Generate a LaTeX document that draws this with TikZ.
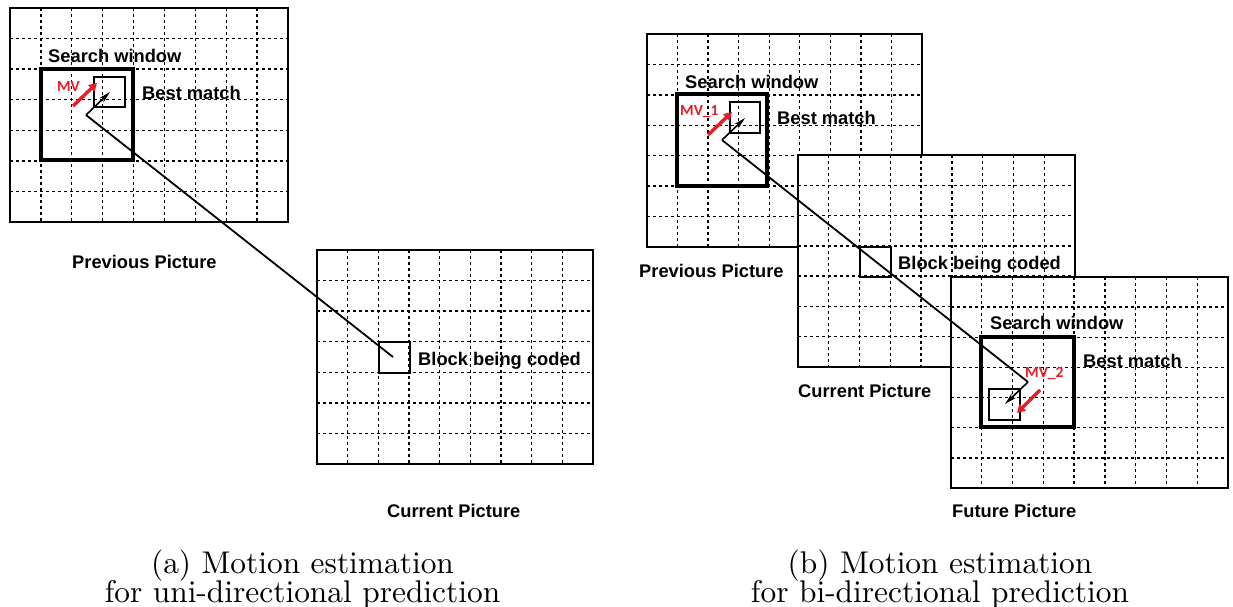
\documentclass[tikz,border=0pt]{standalone}
\usepackage{fontspec}
\newfontfamily\labfont{Liberation Sans}
\newfontfamily\mvfont{Carlito}
\newfontfamily\capfont{lmroman10-regular.otf}
\usetikzlibrary{arrows.meta}
\definecolor{mvred}{RGB}{232,28,36}
\newcommand\picgrid[4]{%
  \fill[white] (#1,#2) rectangle (#3,#4);
  \foreach \i in {1,...,8}{\draw[gridline] ({#1+\i*(#3-#1)/9},#2) -- ({#1+\i*(#3-#1)/9},#4);}
  \foreach \j in {1,...,6}{\draw[gridline] (#1,{#2+\j*(#4-#2)/7}) -- (#3,{#2+\j*(#4-#2)/7});}
  \draw[framebox] (#1,#2) rectangle (#3,#4);
}
\tikzset{
  gridline/.style={line width=1.4pt, dash pattern=on 2.6pt off 3.4pt},
  framebox/.style={line width=1.9pt},
  swin/.style={line width=3.4pt},
  bmbox/.style={line width=1.5pt},
  lbl/.style={font=\labfont\bfseries\fontsize{18.3}{20}\selectfont, inner sep=0pt, anchor=base west},
  mvlbl/.style={font=\mvfont\bfseries\fontsize{15.5}{16}\selectfont, text=mvred, inner sep=0pt, anchor=base west},
  motion/.style={line width=1.6pt, -{Stealth[length=12pt,width=6pt]}},
  mvarrow/.style={line width=3.4pt, draw=mvred, -{Triangle[length=8pt,width=9pt]}},
  link/.style={line width=1.8pt},
  captxt/.style={font=\capfont\fontsize{31.4}{29}\selectfont, inner sep=0pt, anchor=base}
}
\begin{document}
\begin{tikzpicture}[x=1pt,y=-1pt]
\useasboundingbox[fill=white] (0,0) rectangle (1233,606);
% ---------- (a) ----------
\picgrid{10}{8}{288}{222}
\picgrid{317}{250}{593}{464}
\draw[swin] (41,69) rectangle (133,160);
\draw[bmbox] (94,77) rectangle (125,107);
\draw[bmbox] (379,342) rectangle (410,373);
\node[lbl] (sw1) at (48,62) {Search window};
\node[lbl] (bm1) at (142,99) {Best match};
\node[lbl] (pp1) at (72,268) {Previous Picture};
\node[lbl] (bc1) at (418,365) {Block being coded};
\node[lbl] (cp1) at (387,517) {Current Picture};
\node[mvlbl] (mv1) at (57,91) {MV};
\coordinate (blkA) at (393,357);
\coordinate (cornA) at (86,115);
\coordinate (tipA) at (110,92);
\coordinate (mvAs) at (73,106);
\coordinate (mvAe) at (97,83);
\draw[link] (blkA) -- (cornA);
\draw[motion] (cornA) -- (tipA);
\draw[mvarrow] (mvAs) -- (mvAe);
\node[captxt] (capa1) at (302.5,573) {(a) Motion estimation};
\node[captxt] (capa2) at (302.5,602) {for uni-directional prediction};
% ---------- (b) ----------
\picgrid{647}{34}{922}{247}
\picgrid{798}{155}{1075}{367}
\picgrid{951}{277}{1228}{488}
\draw[swin] (677,94) rectangle (767,186);
\draw[bmbox] (730,102) rectangle (760,133);
\draw[bmbox] (860,247) rectangle (891,277);
\draw[swin] (981,337) rectangle (1074,427);
\draw[bmbox] (989,389) rectangle (1020,420);
\node[lbl] (sw2) at (685,88) {Search window};
\node[lbl] (bm2) at (777,124) {Best match};
\node[lbl] (pp2) at (639,277) {Previous Picture};
\node[lbl] (bc2) at (898,269) {Block being coded};
\node[lbl] (cp2) at (798,397) {Current Picture};
\node[lbl] (sw3) at (990,329) {Search window};
\node[lbl] (bm3) at (1083,367) {Best match};
\node[lbl] (fp2) at (952,517) {Future Picture};
\node[mvlbl] (mv21) at (680,115) {MV\_1};
\node[mvlbl] (mv22) at (1025,377) {MV\_2};
\coordinate (cornB) at (722,140);
\coordinate (tipB) at (745,118);
\coordinate (cornC) at (1028,382);
\coordinate (tipC) at (1005,404);
\coordinate (mvBs) at (708,135);
\coordinate (mvBe) at (732,112);
\coordinate (mvCs) at (1040,390);
\coordinate (mvCe) at (1017,413);
\draw[link] (cornB) -- (cornC);
\draw[motion] (cornB) -- (tipB);
\draw[motion] (cornC) -- (tipC);
\draw[mvarrow] (mvBs) -- (mvBe);
\draw[mvarrow] (mvCs) -- (mvCe);
\node[captxt] (capb1) at (940,573) {(b) Motion estimation};
\node[captxt] (capb2) at (940,602) {for bi-directional prediction};
\end{tikzpicture}
\end{document}
